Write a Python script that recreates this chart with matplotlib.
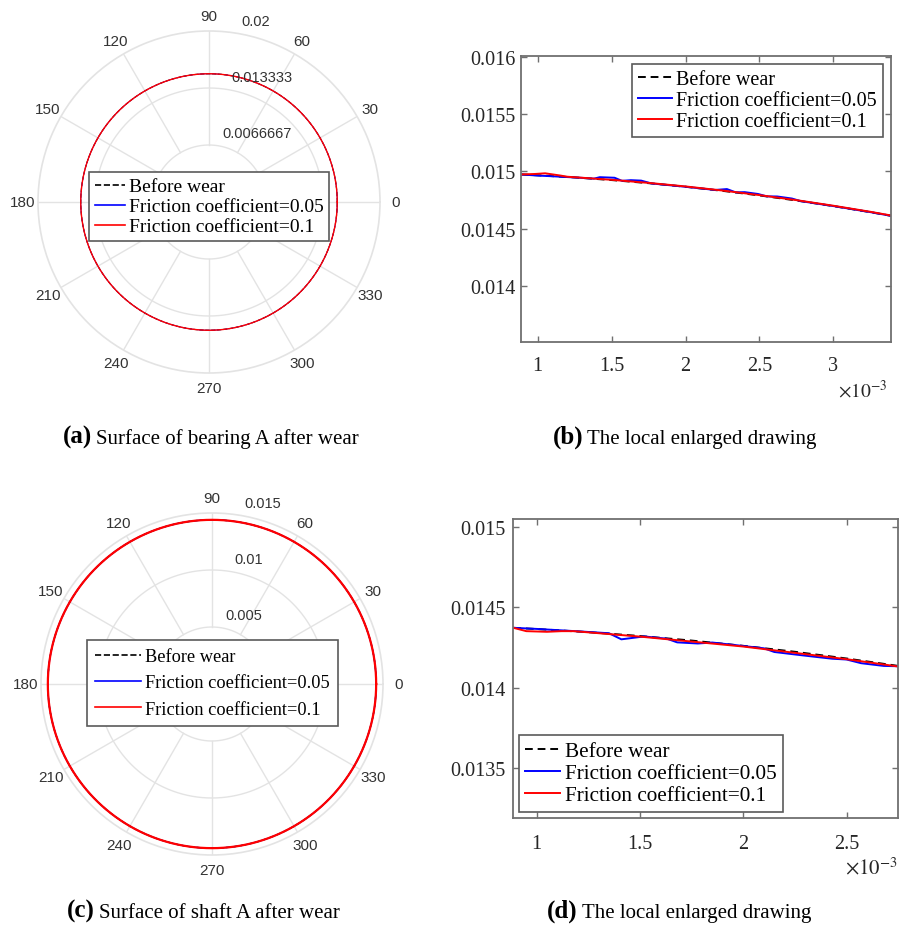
import numpy as np
import matplotlib
matplotlib.use("Agg")
import matplotlib.pyplot as plt
import matplotlib.transforms as mtransforms
from matplotlib.ticker import FuncFormatter

plt.rcParams["font.family"] = ["Liberation Serif", "DejaVu Serif"]
plt.rcParams["mathtext.fontset"] = "stix"

# ---------------- data ----------------
angle_ticks = [0, 30, 60, 90, 120, 150, 180, 210, 240, 270, 300, 330]
theta_deg = np.arange(0, 361, 1)

series_names = ["Before wear", "Friction coefficient=0.05", "Friction coefficient=0.1"]

# Bearing A contour radius (m)
bearing_r_before = 0.015
bearing_r_f005 = 0.015
bearing_r_f01 = 0.015
bearing_rmax = 0.02
bearing_rticks = [0.0066667, 0.013333, 0.02]
bearing_rlabels = ["0.0066667", "0.013333", "0.02"]

# Shaft A contour radius (m)
shaft_r_before = 0.0144
shaft_r_f005 = 0.0144
shaft_r_f01 = 0.0144
shaft_rmax = 0.015
shaft_rticks = [0.005, 0.01, 0.015]
shaft_rlabels = ["0.005", "0.01", "0.015"]

# Bearing A, local enlarged contour (x, y in m)
bA_x_before = [0.000887, 0.00100, 0.00125, 0.00150, 0.00175, 0.00200, 0.00225,
               0.00250, 0.00275, 0.00300, 0.00325, 0.003388]
bA_y_before = [0.0149738, 0.0149666, 0.0149478, 0.0149248, 0.0148976, 0.0148661,
               0.0148303, 0.0147902, 0.0147458, 0.0146969, 0.0146437, 0.0146124]
bA_x_f005 = [0.000887, 0.00100, 0.00110, 0.00120, 0.00130, 0.00138, 0.00142, 0.00152,
             0.00157, 0.00163, 0.00170, 0.00177, 0.00200, 0.00220, 0.00228, 0.00234,
             0.00240, 0.00249, 0.00255, 0.00262, 0.00272, 0.00278, 0.00300, 0.00325,
             0.003388]
bA_y_f005 = [0.014974, 0.014964, 0.014958, 0.014951, 0.014944, 0.014937, 0.014950,
             0.014945, 0.014918, 0.014924, 0.014920, 0.014895, 0.014866, 0.014838,
             0.014846, 0.014817, 0.014819, 0.014803, 0.014782, 0.014781, 0.014763,
             0.014740, 0.014697, 0.014644, 0.014612]
bA_x_f01 = [0.000887, 0.00098, 0.00105, 0.00115, 0.00120, 0.00150, 0.00175, 0.00200,
            0.00225, 0.00250, 0.00275, 0.00300, 0.00325, 0.003388]
bA_y_f01 = [0.014974, 0.014978, 0.014984, 0.014965, 0.014954, 0.014927, 0.014900,
            0.014869, 0.014833, 0.014793, 0.014749, 0.014700, 0.014647, 0.014615]

# Shaft A, local enlarged contour (x, y in m)
sA_x_before = [0.000887, 0.00100, 0.00125, 0.00150, 0.00175, 0.00200, 0.00225,
               0.00250, 0.00275, 0.00280]
sA_y_before = [0.0143727, 0.0143653, 0.0143457, 0.0143217, 0.0142933, 0.0142604,
               0.0142232, 0.0141813, 0.0141350, 0.0141252]
sA_x_f005 = [0.000887, 0.00100, 0.00120, 0.00135, 0.00141, 0.00152, 0.00163, 0.00168,
             0.00178, 0.00185, 0.00210, 0.00215, 0.00226, 0.00234, 0.00243, 0.00250,
             0.00257, 0.00268, 0.00275, 0.00280]
sA_y_f005 = [0.014373, 0.014366, 0.014351, 0.014339, 0.014301, 0.014319, 0.014305,
             0.014282, 0.014275, 0.014281, 0.014245, 0.014222, 0.014205, 0.014193,
             0.014180, 0.014175, 0.014152, 0.014135, 0.014133, 0.014125]
sA_x_f01 = [0.000887, 0.00095, 0.00105, 0.00112, 0.00118, 0.00150, 0.00200, 0.00250,
            0.00280]
sA_y_f01 = [0.014373, 0.014352, 0.014348, 0.014352, 0.014352, 0.014318, 0.014256,
            0.014177, 0.014122]

# ---------------- styling ----------------
W, H = 900, 928
fig = plt.figure(figsize=(W / 100, H / 100), dpi=100)
fig.patch.set_facecolor("white")

grid_c = "#e3e3e3"
spine_c = "#707070"
text_c = "#262626"
colors = ["black", "blue", "red"]
styles = ["--", "-", "-"]


def px_rect(x0, y0, x1, y1):
    return [x0 / W, 1 - y1 / H, (x1 - x0) / W, (y1 - y0) / H]


def polar_panel(rect, rmax, rticks, rlabels, radii, lws, leg_xy, leg_fs, leg_hl, leg_ls,
                leg_bp):
    ax = fig.add_axes(rect, projection="polar")
    ax.set_ylim(0, rmax)
    ax.grid(False)
    th = np.linspace(0, 2 * np.pi, 721)
    for rt in rticks[:-1]:
        ax.plot(th, np.full_like(th, rt), color=grid_c, lw=1.0, zorder=0)
    for a in angle_ticks:
        ax.plot([np.deg2rad(a)] * 2, [rticks[0], rmax], color=grid_c, lw=1.0, zorder=0)
    ax.spines["polar"].set_color(grid_c)
    ax.spines["polar"].set_linewidth(1.2)
    ax.set_xticks(np.deg2rad(angle_ticks))
    ax.set_xticklabels([str(a) for a in angle_ticks], family="Liberation Sans")
    ax.set_yticks([])
    ax.tick_params(axis="x", pad=4, labelsize=11, colors="#333333", length=0)
    off = mtransforms.offset_copy(ax.transData, fig=fig, x=3, y=6, units="dots")
    for rt, lab in zip(rticks, rlabels):
        ax.text(np.deg2rad(80), rt, lab, transform=off, ha="left", va="bottom",
                family="Liberation Sans", fontsize=10.5, color="#333333")
    th_data = np.deg2rad(theta_deg)
    for r, c, s, lw, name in zip(radii, colors, styles, lws, series_names):
        ax.plot(th_data, np.full(th_data.shape, r), color=c, ls=s, lw=lw, label=name)
    leg = ax.legend(loc="upper left", bbox_to_anchor=(leg_xy[0] / W, 1 - leg_xy[1] / H),
                    bbox_transform=fig.transFigure, borderaxespad=0, fontsize=leg_fs,
                    fancybox=False, framealpha=1, edgecolor="#5a5a5a",
                    handlelength=leg_hl, handletextpad=0.2, labelspacing=leg_ls,
                    borderpad=leg_bp)
    leg.get_frame().set_linewidth(1.2)
    for line in leg.get_lines():
        line.set_linewidth(1.2)
    return ax


def zoom_panel(rect, xlim, ylim, xticks, yticks, data, lw, leg_xy, leg_fs, leg_hl,
               leg_ls, xpad, ypad):
    ax = fig.add_axes(rect)
    for (x, y), c, s, name in zip(data, colors, styles, series_names):
        ax.plot(x, y, color=c, ls=s, lw=lw, label=name,
                dashes=(4, 2.5) if s == "--" else (None, None))
    ax.set_xlim(*xlim)
    ax.set_ylim(*ylim)
    ax.set_xticks(xticks)
    ax.set_yticks(yticks)
    ax.xaxis.set_major_formatter(FuncFormatter(lambda v, p: f"{v * 1e3:g}"))
    ax.yaxis.set_major_formatter(FuncFormatter(lambda v, p: f"{v:g}"))
    ax.tick_params(direction="in", top=True, right=True, length=4, width=1,
                   color=spine_c, labelcolor=text_c, labelsize=14.5)
    ax.tick_params(axis="x", pad=xpad)
    ax.tick_params(axis="y", pad=ypad)
    for sp in ax.spines.values():
        sp.set_color(spine_c)
        sp.set_linewidth(1.3)
    leg = ax.legend(loc="upper left", bbox_to_anchor=(leg_xy[0] / W, 1 - leg_xy[1] / H),
                    bbox_transform=fig.transFigure, borderaxespad=0, fontsize=leg_fs,
                    fancybox=False, framealpha=1, edgecolor="#5a5a5a",
                    handlelength=leg_hl, handletextpad=0.2, labelspacing=leg_ls,
                    borderpad=0.3)
    leg.get_frame().set_linewidth(1.2)
    return ax


# (a) bearing A polar contour
polar_panel(px_rect(38, 32, 380, 374), bearing_rmax, bearing_rticks, bearing_rlabels,
            [bearing_r_before, bearing_r_f005, bearing_r_f01], [0.8, 0.6, 1.0],
            (89, 173), 14, 1.55, 0.12, 0.3)

# (c) shaft A polar contour
polar_panel(px_rect(41, 514, 383, 856), shaft_rmax, shaft_rticks, shaft_rlabels,
            [shaft_r_before, shaft_r_f005, shaft_r_f01], [1.0, 1.0, 1.6],
            (87, 641), 13.2, 2.5, 0.5, 0.45)

# (b) bearing A local enlarged drawing
zoom_panel(px_rect(521, 57.3, 890.7, 342.7), (0.000887, 0.003388), (0.013509, 0.0160088),
           [0.001, 0.0015, 0.002, 0.0025, 0.003], [0.014, 0.0145, 0.015, 0.0155, 0.016],
           [(bA_x_before, bA_y_before), (bA_x_f005, bA_y_f005), (bA_x_f01, bA_y_f01)],
           1.4, (632, 65), 14.5, 1.7, 0.1, 10.5, 4)
fig.text(887 / W, 1 - 391 / H, r"$\times10^{-3}$", ha="right", va="center",
         fontsize=14, color=text_c)

# (d) shaft A local enlarged drawing
zoom_panel(px_rect(513.3, 520, 898.3, 819.3), (0.000887, 0.00275), (0.013184, 0.015052),
           [0.001, 0.0015, 0.002, 0.0025], [0.0135, 0.014, 0.0145, 0.015],
           [(sA_x_before, sA_y_before), (sA_x_f005, sA_y_f005), (sA_x_f01, sA_y_f01)],
           1.4, (519, 736), 15.3, 1.65, 0.1, 11, 5.5)
fig.text(898 / W, 1 - 869 / H, r"$\times10^{-3}$", ha="right", va="center",
         fontsize=15, color=text_c)

# sub-figure captions
captions = [
    ("(a)", "Surface of bearing A after wear", 92, 444),
    ("(b)", "The local enlarged drawing", 583, 444),
    ("(c)", "Surface of shaft A after wear", 95, 918),
    ("(d)", "The local enlarged drawing", 578, 918),
]
for tag, txt, xpx, ypx in captions:
    fig.text(xpx / W, 1 - ypx / H, tag, ha="right", va="baseline", fontsize=18,
             fontweight="bold", color="black")
    fig.text((xpx + 4) / W, 1 - ypx / H, txt, ha="left", va="baseline", fontsize=15,
             color="black")

fig.savefig("out.png", dpi=100)
